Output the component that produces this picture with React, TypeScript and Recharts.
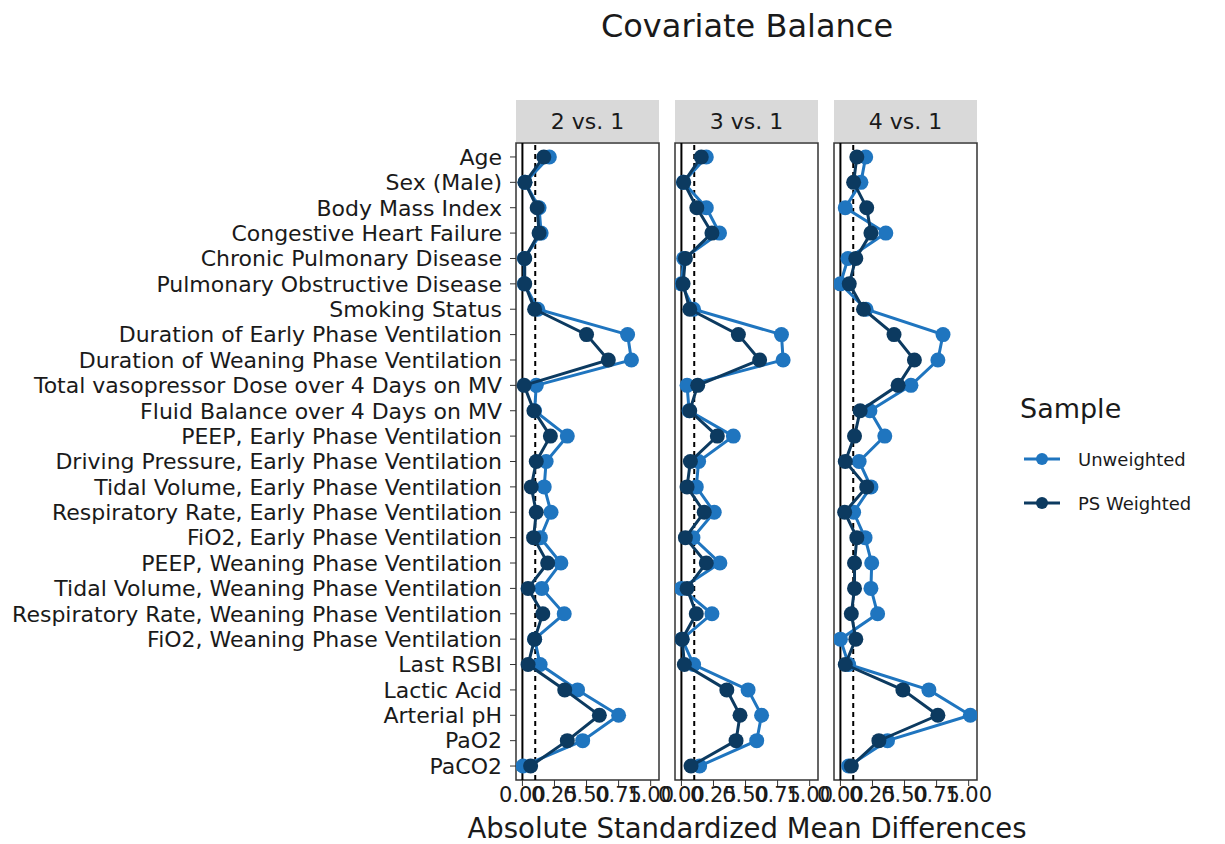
import React from 'react'
import { ScatterChart, Scatter, XAxis, YAxis, ReferenceLine, ReferenceArea } from 'recharts'

const covariates = [
  'Age',
  'Sex (Male)',
  'Body Mass Index',
  'Congestive Heart Failure',
  'Chronic Pulmonary Disease',
  'Pulmonary Obstructive Disease',
  'Smoking Status',
  'Duration of Early Phase Ventilation',
  'Duration of Weaning Phase Ventilation',
  'Total vasopressor Dose over 4 Days on MV',
  'Fluid Balance over 4 Days on MV',
  'PEEP, Early Phase Ventilation',
  'Driving Pressure, Early Phase Ventilation',
  'Tidal Volume, Early Phase Ventilation',
  'Respiratory Rate, Early Phase Ventilation',
  'FiO2, Early Phase Ventilation',
  'PEEP, Weaning Phase Ventilation',
  'Tidal Volume, Weaning Phase Ventilation',
  'Respiratory Rate, Weaning Phase Ventilation',
  'FiO2, Weaning Phase Ventilation',
  'Last RSBI',
  'Lactic Acid',
  'Arterial pH',
  'PaO2',
  'PaCO2',
]

const panelTitles = ['2 vs. 1', '3 vs. 1', '4 vs. 1']

const unweighted2v1 = [0.21, 0.02, 0.13, 0.146, 0.015, 0.015, 0.12, 0.82, 0.85, 0.108, 0.095, 0.35,
  0.185, 0.17, 0.223, 0.14, 0.3, 0.151, 0.326, 0.095, 0.138, 0.43, 0.75, 0.47, 0.005]
const weighted2v1 = [0.167, 0.02, 0.115, 0.13, 0.018, 0.018, 0.095, 0.5, 0.67, 0.013, 0.09, 0.218,
  0.108, 0.069, 0.108, 0.087, 0.197, 0.044, 0.159, 0.095, 0.044, 0.33, 0.6, 0.35, 0.064]

const unweighted3v1 = [0.194, 0.015, 0.194, 0.297, 0.018, 0.0, 0.095, 0.78, 0.793, 0.044, 0.06, 0.405,
  0.134, 0.116, 0.256, 0.09, 0.3, 0.0, 0.238, 0.005, 0.095, 0.52, 0.625, 0.587, 0.142]
const weighted3v1 = [0.155, 0.018, 0.12, 0.238, 0.031, 0.013, 0.065, 0.444, 0.61, 0.127, 0.065, 0.28,
  0.07, 0.044, 0.178, 0.031, 0.194, 0.044, 0.116, 0.006, 0.023, 0.354, 0.457, 0.426, 0.075]

const unweighted4v1 = [0.197, 0.16, 0.038, 0.354, 0.059, 0.0, 0.2, 0.8, 0.76, 0.55, 0.23, 0.346,
  0.146, 0.238, 0.103, 0.192, 0.244, 0.238, 0.29, 0.0, 0.064, 0.69, 1.013, 0.367, 0.064]
const weighted4v1 = [0.128, 0.103, 0.205, 0.238, 0.12, 0.069, 0.18, 0.418, 0.577, 0.45, 0.154, 0.11,
  0.038, 0.205, 0.033, 0.128, 0.11, 0.11, 0.085, 0.12, 0.038, 0.487, 0.76, 0.3, 0.085]

const xTicks = [0, 0.25, 0.5, 0.75, 1]

const LIGHT = '#1f75bf'
const DARK = '#0c3a60'
const FONT = 'DejaVu Sans'
const TEXT = '#1a1a1a'

const X_DOMAIN: [number, number] = [-0.05, 1.065]
const Y_DOMAIN: [number, number] = [0.45, 25.55]

const PLOT_TOP = 143
const PLOT_BOTTOM = 780
const PANEL_W = 143
const panelLeft = [516, 675, 834]

const toPoints = (vals: number[]) => vals.map((v, i) => ({ x: v, y: i + 1 }))

const dot = (color: string) => (p: any) => <circle cx={p.cx} cy={p.cy} r={7.5} fill={color} />

function Panel({ idx, unweighted, weighted }: { idx: number; unweighted: number[]; weighted: number[] }) {
  const first = idx === 0
  const pad = 30
  const yAxisW = first ? panelLeft[0] : 0
  const left = first ? 0 : panelLeft[idx] - pad
  const width = first ? panelLeft[0] + PANEL_W + pad : PANEL_W + pad * 2
  const xAxisH = 30
  return (
    <div style={{ position: 'absolute', left, top: 0 }}>
      <ScatterChart
        width={width}
        height={844}
        margin={{ top: PLOT_TOP, right: pad, left: first ? 0 : pad, bottom: 844 - PLOT_BOTTOM - xAxisH }}
      >
        <XAxis
          type="number"
          dataKey="x"
          domain={X_DOMAIN}
          ticks={xTicks}
          interval={0}
          allowDataOverflow
          tickFormatter={(v: number) => v.toFixed(2)}
          axisLine={false}
          tickLine={{ stroke: '#333333' }}
          tickSize={6}
          tickMargin={1}
          height={xAxisH}
          tick={{ fontSize: 21, fill: TEXT, fontFamily: FONT }}
        />
        <YAxis
          type="number"
          dataKey="y"
          domain={Y_DOMAIN}
          reversed
          allowDataOverflow
          ticks={covariates.map((_, i) => i + 1)}
          interval={0}
          hide={!first}
          width={yAxisW}
          axisLine={false}
          tickLine={{ stroke: '#333333' }}
          tickSize={6}
          tickMargin={8}
          tickFormatter={(v: number) => covariates[v - 1]}
          tick={{ fontSize: 22, fill: TEXT, fontFamily: FONT }}
        />
        <ReferenceLine x={0} stroke="#000000" strokeWidth={2} />
        <ReferenceLine x={0.1} stroke="#000000" strokeWidth={2} strokeDasharray="5 4" />
        <Scatter
          name="Unweighted"
          data={toPoints(unweighted)}
          fill={LIGHT}
          line={{ stroke: LIGHT, strokeWidth: 3 }}
          shape={dot(LIGHT)}
          isAnimationActive={false}
        />
        <Scatter
          name="PS Weighted"
          data={toPoints(weighted)}
          fill={DARK}
          line={{ stroke: DARK, strokeWidth: 3 }}
          shape={dot(DARK)}
          isAnimationActive={false}
        />
        <ReferenceArea
          x1={X_DOMAIN[0]}
          x2={X_DOMAIN[1]}
          y1={Y_DOMAIN[0]}
          y2={Y_DOMAIN[1]}
          fill="none"
          fillOpacity={0}
          stroke="#333333"
          strokeWidth={1.5}
        />
      </ScatterChart>
    </div>
  )
}

function LegendKey({ color, label, top }: { color: string; label: string; top: number }) {
  return (
    <div style={{ position: 'absolute', left: 1022, top: top - 12, height: 24, display: 'flex', alignItems: 'center' }}>
      <svg width={40} height={24}>
        <line x1={2} y1={12} x2={38} y2={12} stroke={color} strokeWidth={3} />
        <circle cx={20} cy={12} r={6} fill={color} />
      </svg>
      <span style={{ marginLeft: 16, fontSize: 18, color: TEXT, fontFamily: FONT }}>{label}</span>
    </div>
  )
}

export default function App() {
  const series = [
    [unweighted2v1, weighted2v1],
    [unweighted3v1, weighted3v1],
    [unweighted4v1, weighted4v1],
  ]
  return (
    <div style={{ position: 'absolute', left: 0, top: 0, width: 1225, height: 844, background: '#ffffff', fontFamily: FONT }}>
      <div style={{ position: 'absolute', left: 447, width: 600, top: 7, textAlign: 'center', fontSize: 32, color: TEXT }}>
        Covariate Balance
      </div>
      {panelTitles.map((t, i) => (
        <div
          key={t}
          style={{
            position: 'absolute',
            left: panelLeft[i],
            top: 100,
            width: PANEL_W,
            height: 42,
            background: '#d9d9d9',
            display: 'flex',
            alignItems: 'center',
            justifyContent: 'center',
            fontSize: 22,
            color: TEXT,
          }}
        >
          {t}
        </div>
      ))}
      {series.map(([u, w], i) => (
        <Panel key={i} idx={i} unweighted={u} weighted={w} />
      ))}
      <div style={{ position: 'absolute', left: 397, width: 700, top: 812, textAlign: 'center', fontSize: 27.5, color: TEXT }}>
        Absolute Standardized Mean Differences
      </div>
      <div style={{ position: 'absolute', left: 1020, top: 393, fontSize: 27, color: TEXT }}>Sample</div>
      <LegendKey color={LIGHT} label="Unweighted" top={459} />
      <LegendKey color={DARK} label="PS Weighted" top={503} />
    </div>
  )
}
